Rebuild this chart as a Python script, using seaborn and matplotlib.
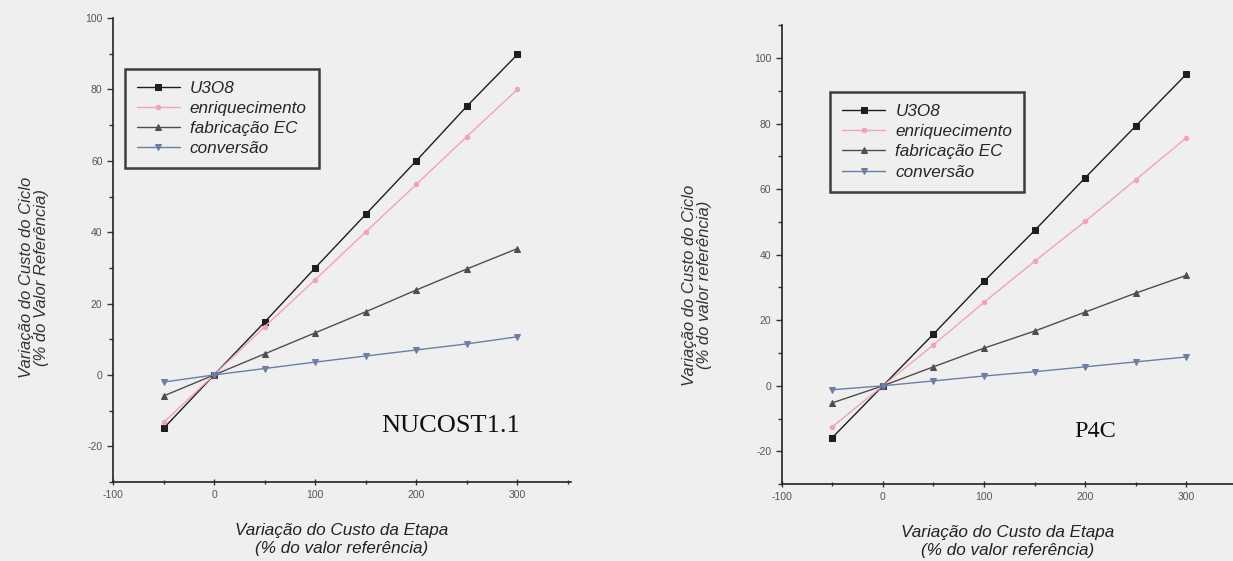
import matplotlib
matplotlib.use("Agg")
import matplotlib.pyplot as plt
from matplotlib.ticker import MultipleLocator
import numpy as np
import pandas as pd
import seaborn as sns

# Stage cost variation (% of reference value)
variacao_etapa = [-50, 0, 50, 100, 150, 200, 250, 300]

series_names = ["U3O8", "enriquecimento", "fabricação EC", "conversão"]

# NUCOST1.1 — fuel cycle cost variation (% of reference value)
nucost_u3o8 = [-15.0, 0.0, 14.8, 30.0, 45.0, 60.0, 75.3, 89.8]
nucost_enriq = [-13.3, 0.0, 13.5, 26.7, 40.1, 53.4, 66.8, 80.0]
nucost_fabric = [-5.9, 0.0, 5.9, 11.8, 17.7, 23.8, 29.7, 35.4]
nucost_conv = [-2.0, 0.0, 1.8, 3.6, 5.3, 7.0, 8.7, 10.7]

# P4C — fuel cycle cost variation (% of reference value)
p4c_u3o8 = [-15.8, 0.0, 15.8, 31.9, 47.4, 63.5, 79.3, 95.1]
p4c_enriq = [-12.5, 0.0, 12.5, 25.5, 38.0, 50.2, 62.9, 75.7]
p4c_fabric = [-5.2, 0.0, 5.8, 11.5, 16.7, 22.5, 28.3, 33.7]
p4c_conv = [-1.2, 0.0, 1.5, 3.0, 4.3, 5.8, 7.3, 8.8]

y_ticks = [-20, 0, 20, 40, 60, 80, 100]
x_ticks = [-100, 0, 100, 200, 300]

sns.set_theme(style="ticks")
plt.rcParams["font.family"] = ["Liberation Sans", "DejaVu Sans"]
plt.rcParams["axes.unicode_minus"] = False

bg = "#efefef"
styles = {
    "U3O8": dict(color="#1e1e1e", marker="s", ms=4.8, lw=1.0),
    "enriquecimento": dict(color="#f2a3b5", marker="o", ms=3.2, lw=1.0),
    "fabricação EC": dict(color="#4e4e4e", marker="^", ms=4.5, lw=1.0),
    "conversão": dict(color="#6b7ea6", marker="v", ms=4.5, lw=1.0),
}


def draw_panel(ax, values, ylim, xlim, legend_anchor, tag, tag_xy, tag_size,
               ylabel, ylabel_size, ylabel_xy):
    df = pd.DataFrame({
        "x": np.tile(variacao_etapa, len(series_names)),
        "y": np.concatenate(values),
        "serie": np.repeat(series_names, len(variacao_etapa)),
    })
    for name in series_names:
        st = styles[name]
        sub = df[df["serie"] == name]
        sns.lineplot(data=sub, x="x", y="y", ax=ax, color=st["color"],
                     marker=st["marker"], markersize=st["ms"], linewidth=st["lw"],
                     markeredgecolor=st["color"], label=name, sort=False)
    ax.set_facecolor(bg)
    ax.set_xlim(*xlim)
    ax.set_ylim(*ylim)
    ax.set_xticks(x_ticks)
    ax.set_yticks(y_ticks)
    ax.xaxis.set_minor_locator(MultipleLocator(50))
    ax.yaxis.set_minor_locator(MultipleLocator(10))
    ax.tick_params(axis="both", which="major", labelsize=7.5, colors="#333333",
                   labelcolor="#555555", length=4, width=1.0)
    ax.tick_params(axis="x", which="both", direction="inout")
    ax.tick_params(axis="both", which="minor", length=3, width=1.0, colors="#333333")
    for side in ("top", "right"):
        ax.spines[side].set_visible(False)
    for side in ("left", "bottom"):
        ax.spines[side].set_color("#222222")
        ax.spines[side].set_linewidth(1.2)
    ax.set_xlabel("Variação do Custo da Etapa\n(% do valor referência)",
                  fontsize=12.3, style="italic", color="#222222", labelpad=17,
                  linespacing=1.25)
    ax.set_ylabel(ylabel, fontsize=ylabel_size, style="italic", color="#333333",
                  linespacing=1.0)
    ax.yaxis.set_label_coords(*ylabel_xy)
    leg = ax.legend(loc="upper left", bbox_to_anchor=legend_anchor, frameon=True,
                    fancybox=False, edgecolor="#111111", facecolor=bg,
                    prop={"size": 12.3, "style": "italic"}, handlelength=2.5,
                    handletextpad=0.6, labelspacing=0.3, borderpad=0.7,
                    borderaxespad=0.0)
    leg.get_frame().set_linewidth(1.8)
    ax.text(tag_xy[0], tag_xy[1], tag, fontsize=tag_size, family="Liberation Serif",
            ha="left", va="baseline", color="#111111")


fig = plt.figure(figsize=(12.33, 5.61), dpi=100, facecolor=bg)
ax1 = fig.add_axes([0.0916, 0.1408, 0.3715, 0.827])
ax2 = fig.add_axes([0.634, 0.137, 0.366, 0.818])

draw_panel(ax1, [nucost_u3o8, nucost_enriq, nucost_fabric, nucost_conv],
           (-30, 100), (-100, 353), (0.026, 0.89), "NUCOST1.1", (165, -16), 19,
           "Variação do Custo do Ciclo\n(% do Valor Referência)", 12, (-0.14, 0.44))
draw_panel(ax2, [p4c_u3o8, p4c_enriq, p4c_fabric, p4c_conv],
           (-30, 110), (-100, 346), (0.108, 0.854), "P4C", (189, -15.5), 17.5,
           "Variação do Custo do Ciclo\n(% do valor referência)", 12, (-0.155, 0.434))

fig.savefig("out.png", dpi=100, facecolor=bg)
